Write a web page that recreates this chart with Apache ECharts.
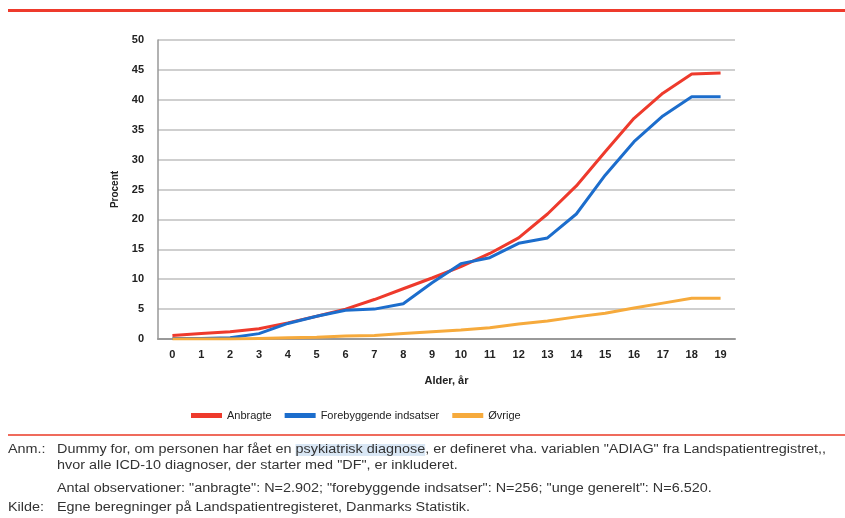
<!DOCTYPE html>
<html>
<head>
<meta charset="utf-8">
<script src="https://cdn.jsdelivr.net/npm/echarts@6/dist/echarts.min.js"></script>
<style>
  html, body { margin: 0; padding: 0; background: #fff; }
  #chart { width: 845px; height: 518px; }
</style>
</head>
<body>
<div id="chart"></div>
<script>
// alder, år
const ages = ['0', '1', '2', '3', '4', '5', '6', '7', '8', '9', '10', '11', '12', '13', '14', '15', '16', '17', '18', '19'];
// procent med psykiatrisk diagnose
const anbragte = [0.6, 0.9, 1.2, 1.7, 2.7, 3.8, 5.0, 6.6, 8.4, 10.2, 12.1, 14.3, 16.9, 20.9, 25.6, 31.3, 36.9, 41.1, 44.3, 44.5];
const forebyggende = [0.1, 0.1, 0.2, 0.9, 2.6, 3.8, 4.8, 5.0, 5.9, 9.4, 12.6, 13.6, 16.0, 16.9, 20.9, 27.4, 33.0, 37.3, 40.5, 40.5];
const oevrige = [0.0, 0.0, 0.0, 0.1, 0.2, 0.3, 0.5, 0.6, 0.9, 1.2, 1.5, 1.9, 2.5, 3.0, 3.7, 4.3, 5.2, 6.0, 6.8, 6.8];
const seriesNames = ['Anbragte', 'Forebyggende indsatser', 'Øvrige'];
const colors = ['#ee3a2c', '#1c6dcc', '#f6aa3c'];

const font = 'Liberation Sans, Arial, sans-serif';
const noteStyle = { fontSize: 12, fill: '#333', fontFamily: font };
const stretch = 1.2; // noterne er bredere i originalen

let myChart = echarts.init(document.getElementById('chart'));
let option;

option = {
  animation: false,
  color: colors,
  textStyle: { fontFamily: font },
  grid: { left: 158, right: 110, top: 40, bottom: 179 },
  legend: {
    top: 405,
    left: 186,
    icon: 'rect',
    itemWidth: 31,
    itemHeight: 5,
    itemGap: 13,
    textStyle: { fontSize: 11, color: '#222', fontFamily: font },
    data: seriesNames
  },
  xAxis: {
    type: 'category',
    data: ages,
    name: 'Alder, år',
    nameLocation: 'middle',
    nameGap: 36,
    nameTextStyle: { fontSize: 11, fontWeight: 'bold', color: '#222' },
    axisLine: { lineStyle: { color: '#999', width: 2 } },
    axisTick: { show: false },
    axisLabel: { fontSize: 11, fontWeight: 'bold', color: '#222', margin: 10 }
  },
  yAxis: {
    type: 'value',
    min: 0,
    max: 50,
    interval: 5,
    name: 'Procent',
    nameLocation: 'middle',
    nameGap: 38,
    nameRotate: 90,
    nameTextStyle: { fontSize: 10, fontWeight: 'bold', color: '#222' },
    axisLine: { show: true, lineStyle: { color: '#999', width: 1.5 } },
    axisTick: { show: false },
    axisLabel: { fontSize: 11, fontWeight: 'bold', color: '#222', margin: 14 },
    splitLine: { lineStyle: { color: '#cfcfcf', width: 2 } }
  },
  series: [
    { name: seriesNames[0], type: 'line', data: anbragte, showSymbol: false, lineStyle: { width: 3 } },
    { name: seriesNames[1], type: 'line', data: forebyggende, showSymbol: false, lineStyle: { width: 3 } },
    { name: seriesNames[2], type: 'line', data: oevrige, showSymbol: false, lineStyle: { width: 3 } }
  ],
  graphic: [
    // rød streg i toppen
    { type: 'rect', shape: { x: 8, y: 9, width: 837, height: 3 }, style: { fill: '#ee3a2c' } },
    // rød streg over noterne
    { type: 'rect', shape: { x: 8, y: 434, width: 837, height: 2 }, style: { fill: '#ef6b5c' } },
    { type: 'text', x: 8, y: 444, scaleX: stretch, style: Object.assign({ text: 'Anm.:' }, noteStyle) },
    {
      type: 'text', x: 57, y: 444, scaleX: stretch,
      style: Object.assign({
        text: '{a|Dummy for, om personen har fået en }{h|psykiatrisk diagnose}{a|, er defineret vha. variablen "ADIAG" fra Landspatientregistret,,}',
        rich: {
          a: noteStyle,
          h: Object.assign({ backgroundColor: '#d9e7f5' }, noteStyle)
        }
      }, noteStyle)
    },
    { type: 'text', x: 57, y: 460, scaleX: stretch, style: Object.assign({ text: 'hvor alle ICD-10 diagnoser, der starter med "DF", er inkluderet.' }, noteStyle) },
    { type: 'text', x: 57, y: 483, scaleX: stretch, style: Object.assign({ text: 'Antal observationer: "anbragte": N=2.902; "forebyggende indsatser": N=256; "unge generelt": N=6.520.' }, noteStyle) },
    { type: 'text', x: 8, y: 502, scaleX: stretch, style: Object.assign({ text: 'Kilde:' }, noteStyle) },
    { type: 'text', x: 57, y: 502, scaleX: stretch, style: Object.assign({ text: 'Egne beregninger på Landspatientregisteret, Danmarks Statistik.' }, noteStyle) }
  ]
};

option && myChart.setOption(option);
</script>
</body>
</html>
